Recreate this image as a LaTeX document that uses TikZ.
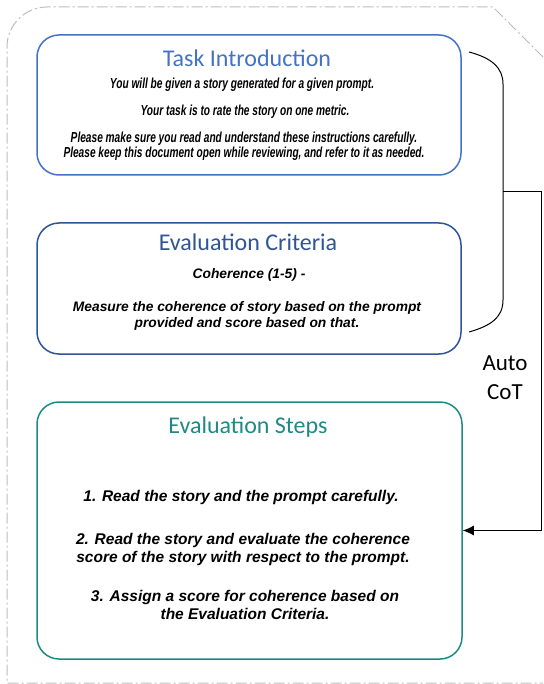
\documentclass[tikz,border=0pt]{standalone}
\usepackage{fontspec}
\setmainfont{Liberation Sans}
\newfontfamily\headfont{Carlito}
\newfontfamily\narrowfont[FakeStretch=0.7]{Liberation Sans}
\usetikzlibrary{arrows.meta}
\definecolor{introblue}{HTML}{4472C4}
\definecolor{critblue}{HTML}{2F5597}
\definecolor{stepteal}{HTML}{1F8A84}
\definecolor{framegray}{HTML}{BDBDBD}
\tikzset{
  panel/.style={rounded corners=22pt, line width=1.5pt, inner sep=0pt, fill=white},
  heading/.style={inner sep=0pt, anchor=base, font=\headfont\fontsize{24}{28}\selectfont},
  introtext/.style={inner sep=0pt, align=center, font=\narrowfont\bfseries\itshape\fontsize{14.5}{12.5}\selectfont},
  crittext/.style={inner sep=0pt, align=center, font=\bfseries\itshape\fontsize{13.8}{16}\selectfont},
  steptext/.style={inner sep=0pt, align=center, font=\bfseries\itshape\fontsize{15.5}{18}\selectfont}
}

\begin{document}
\begin{tikzpicture}[x=1pt,y=1pt,yscale=-1,xscale=1]
                \useasboundingbox (0,0) rectangle (543,684);
                % outer frame
                \draw  [color=framegray, line width=1pt, dash pattern={on 11pt off 3pt on 2pt off 3pt}]  (543,57) -- (493,7) -- (47,7) .. controls (25,7) and (7,25) .. (7,47) -- (7,683) -- (543,683) ;
                % panels
                \draw (249,105) node (intro) [panel, draw=introblue, minimum width=424pt, minimum height=140pt] {};
                \draw (249,288.5) node (crit) [panel, draw=critblue, minimum width=424pt, minimum height=131pt] {};
                \draw (249.5,530.5) node (steps) [panel, draw=stepteal, minimum width=425pt, minimum height=257pt] {};
                % task introduction
                \draw (247,67) node (introtitle) [heading, text=introblue] {Task Introduction};
                \draw (242,89) node (introa) [introtext, anchor=base] {You will be given a story generated for a given prompt.};
                \draw (245,116) node (introb) [introtext, anchor=base] {Your task is to rate the story on one metric.};
                \draw (244,146) node (introc) [introtext] {Please make sure you read and understand these instructions carefully.\\Please keep this document open while reviewing, and refer to it as needed.};
                % evaluation criteria
                \draw (248,251) node (crittitle) [heading, text=critblue] {Evaluation Criteria};
                \draw (249,278) node (crita) [crittext, anchor=base] {Coherence (1-5) -};
                \draw (247,315.5) node (critb) [crittext] {Measure the coherence of story based on the prompt\\provided and score based on that.};
                % evaluation steps
                \draw (248,433) node (stepstitle) [heading, text=stepteal] {Evaluation Steps};
                \draw (241,501) node (stepa) [steptext, anchor=base] {1. Read the story and the prompt carefully.};
                \draw (243,549) node (stepb) [steptext] {2. Read the story and evaluate the coherence\\score of the story with respect to the prompt.};
                \draw (245,604.5) node (stepc) [steptext] {3. Assign a score for coherence based on\\the Evaluation Criteria.};
                % auto CoT bracket
                \coordinate (brtop) at (469,52);
                \coordinate (brbot) at (469,332);
                \coordinate (brmid) at (503,192);
                \draw  [line width=1pt]  (brtop) .. controls (492,58) and (503,68) .. (503,84) -- (503,300) .. controls (503,318) and (490,326) .. (brbot) ;
                \draw  [line width=1pt, -{Latex[length=11pt,width=10pt]}]  (brmid) -- (541,192) |- (steps.east) ;
                \draw (505,378) node (autocot) [inner sep=0pt, align=center, font=\headfont\fontsize{23}{29}\selectfont] {Auto\\CoT};
            \end{tikzpicture}
\end{document}
